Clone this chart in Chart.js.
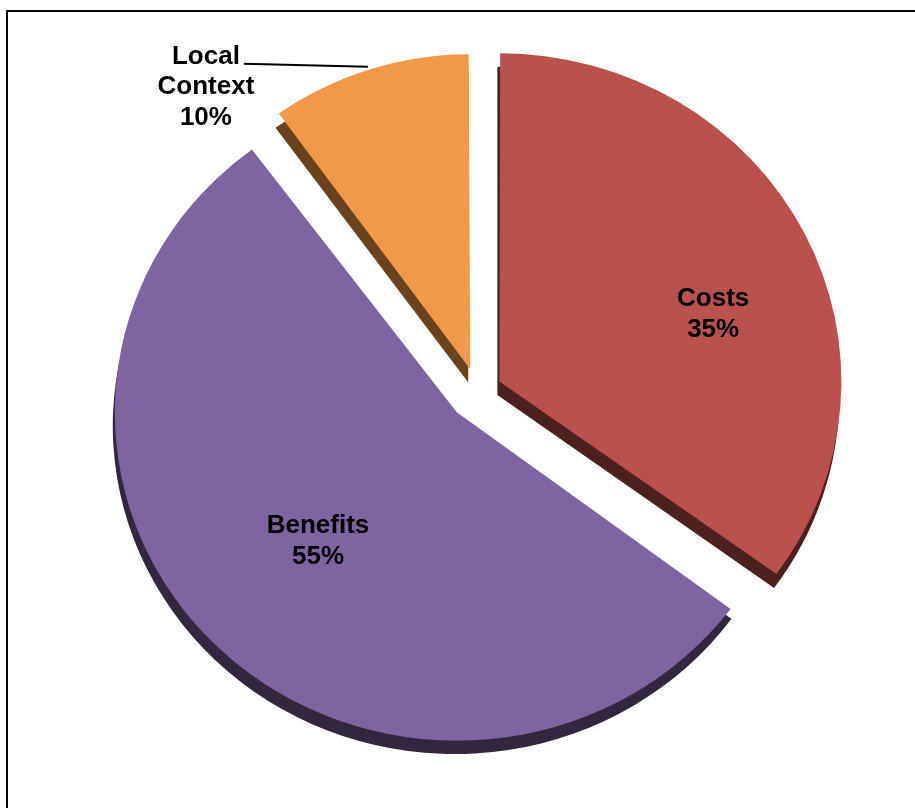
<!DOCTYPE html>
<html>
<head>
<meta charset="utf-8">
<script src="https://cdn.jsdelivr.net/npm/chart.js@4.4.1/dist/chart.umd.min.js"></script>
<style>
  html, body { margin: 0; padding: 0; background: #fff; overflow: hidden; }
  #wrap { position: relative; width: 915px; height: 808px; }
  #frame { position: absolute; left: 6px; top: 10px; width: 960px; height: 860px; border: 2px solid #000; box-sizing: border-box; }
  canvas { position: absolute; left: 0; top: 0; }
</style>
</head>
<body>
<div id="wrap">
  <div id="frame"></div>
  <canvas id="pieChart" width="915" height="808"></canvas>
</div>
<script>
document.addEventListener("DOMContentLoaded", function () {
    // Chart data
    const categories = ["Costs", "Benefits", "Local Context"];
    const shares = [35, 55, 10];

    // Slice look
    const faceColors = ["#B9524E", "#7E64A0", "#F0994B"];
    const sideColors = ["#4E1F1F", "#33273F", "#6A421C"];
    const explode = [96, 120, 100];     // chart.js offset (moves slice by offset/4)
    const sliceRadius = [342, 342, 328]; // drawn radius per slice (3d look)

    // label placement: fraction of radius and turn (deg) from slice middle
    const labelRadius = [0.658, 0.564, 1.01];
    const labelTurn = [8.8, 1, 0];
    const labelOutside = [false, false, true];

    const tilt = 0.96;         // squash the pie a little, like the 3d view
    const tiltAnchor = 392;
    const depth = 14;
    const font = 'bold 26px "Liberation Sans", Arial, sans-serif';

    function tiltY(y) {
        return tiltAnchor - (tiltAnchor - y) * tilt;
    }

    function fixOf(arc) {
        return 1 - Math.sin(Math.min(Math.PI, arc.circumference || 0));
    }

    // where chart.js really draws a slice
    function sliceGeom(arc) {
        const off = (arc.options.offset || 0) / 4;
        const mid = (arc.startAngle + arc.endAngle) / 2;
        return {
            x: arc.x + Math.cos(mid) * off,
            y: arc.y + Math.sin(mid) * off,
            r: arc.outerRadius + off * fixOf(arc),
            start: arc.startAngle,
            end: arc.endAngle,
            mid: mid
        };
    }

    const pie3d = {
        id: "pie3d",
        afterDatasetsUpdate(chart) {
            chart.getDatasetMeta(0).data.forEach(function (arc, i) {
                const off = (arc.options.offset || 0) / 4;
                arc.outerRadius = sliceRadius[i] - off * fixOf(arc);
            });
        },
        beforeDatasetsDraw(chart) {
            const ctx = chart.ctx;
            ctx.save();
            ctx.translate(0, tiltAnchor);
            ctx.scale(1, tilt);
            ctx.translate(0, -tiltAnchor);
            // dark side walls under every slice
            chart.getDatasetMeta(0).data.forEach(function (arc, i) {
                const g = sliceGeom(arc);
                ctx.beginPath();
                ctx.moveTo(g.x - 2, g.y + depth);
                ctx.arc(g.x - 2, g.y + depth, g.r, g.start, g.end);
                ctx.closePath();
                ctx.fillStyle = sideColors[i];
                ctx.fill();
            });
        },
        afterDatasetsDraw(chart) {
            const ctx = chart.ctx;
            ctx.restore();

            ctx.save();
            ctx.font = font;
            ctx.fillStyle = "#000";
            ctx.textAlign = "center";
            chart.getDatasetMeta(0).data.forEach(function (arc, i) {
                const g = sliceGeom(arc);
                const a = g.mid + labelTurn[i] * Math.PI / 180;
                const px = g.x + Math.cos(a) * g.r * labelRadius[i];
                const py = tiltY(g.y + Math.sin(a) * g.r * labelRadius[i]);
                const lines = categories[i].split(" ").concat([shares[i] + "%"]);

                if (labelOutside[i]) {
                    const ex = px - 124;
                    const ey = py - 3;
                    ctx.beginPath();
                    ctx.moveTo(px, py);
                    ctx.lineTo(ex, ey);
                    ctx.strokeStyle = "#000";
                    ctx.lineWidth = 2;
                    ctx.stroke();
                    ctx.textBaseline = "alphabetic";
                    lines.forEach(function (t, k) {
                        ctx.fillText(t, ex - 38, ey + k * 30.5);
                    });
                } else {
                    ctx.textBaseline = "middle";
                    lines.forEach(function (t, k) {
                        ctx.fillText(t, px, py + (k - (lines.length - 1) / 2) * 31);
                    });
                }
            });
            ctx.restore();
        }
    };

    const ctx = document.getElementById("pieChart").getContext("2d");
    const myPieChart = new Chart(ctx, {
        type: "pie",
        data: {
            labels: categories,
            datasets: [{
                data: shares,
                backgroundColor: faceColors,
                borderWidth: 0,
                offset: explode,
                hoverOffset: 0,
                radius: 320,
            }],
        },
        options: {
            responsive: false,
            animation: false,
            events: [],
            layout: { padding: { left: 42, right: 1, top: 0, bottom: 24 } },
            plugins: {
                legend: { display: false },
                tooltip: { enabled: false },
            },
        },
        plugins: [pie3d],
    });
});
</script>
</body>
</html>
